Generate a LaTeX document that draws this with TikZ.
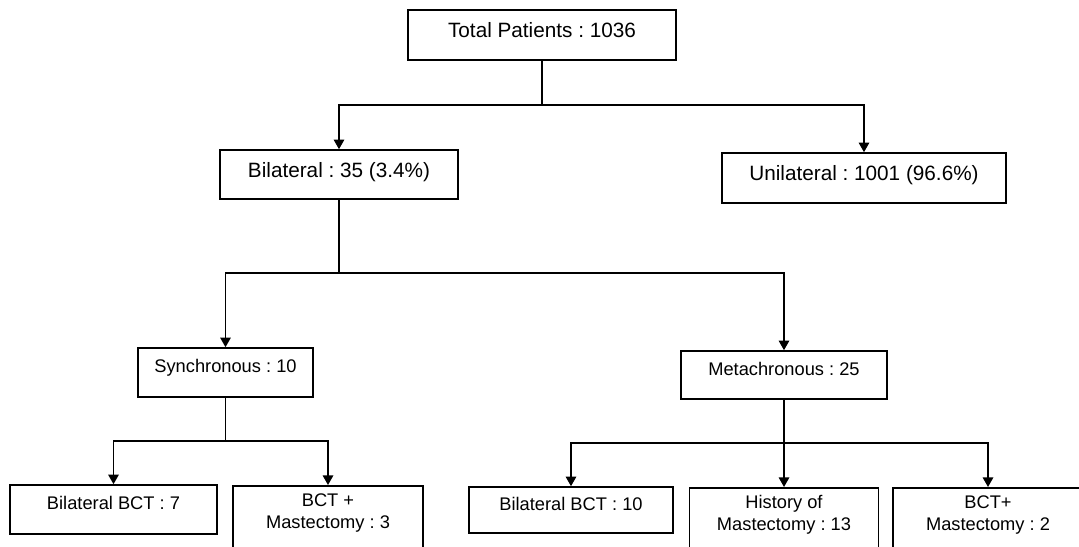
\documentclass[tikz,border=0pt]{standalone}
\usepackage{fontspec}
\setmainfont{Liberation Sans}
\usetikzlibrary{arrows.meta}
\frenchspacing
\begin{document}
\begin{tikzpicture}[x=0.02cm,y=-0.02cm,line width=0.9pt,
  box/.style={draw,inner sep=2pt,align=center,font=\fontsize{10.4}{12.5}\selectfont},
  onel/.style={text height=8pt,text depth=7.5pt},
  big/.style={font=\fontsize{11.8}{14}\selectfont,text height=9pt,text depth=6pt},
  tall/.style={inner ysep=4.5pt,anchor=north},
  arr/.style={-{Triangle[width=6pt,length=5.5pt]}}]
 \useasboundingbox (0,0) rectangle (1079,547);

 \node[box,big,minimum width=5.36cm,minimum height=1cm] (total) at (542,35) {Total Patients : 1036};
 \node[box,big,minimum width=4.76cm,minimum height=0.98cm] (bil) at (339,174.5) {Bilateral : 35 (3.4\%)};
 \node[box,big,minimum width=5.68cm,minimum height=1cm] (uni) at (864,178) {Unilateral : 1001 (96.6\%)};
 \node[box,onel,minimum width=3.5cm,minimum height=0.98cm] (sync) at (225.5,372.5) {Synchronous : 10};
 \node[box,onel,minimum width=4.12cm,minimum height=0.96cm] (meta) at (784,375) {Metachronous : 25};
 \node[box,onel,minimum width=4.14cm,minimum height=0.98cm] (bbct1) at (113.5,509.5) {Bilateral BCT : 7};
 \node[box,tall,minimum width=3.8cm] (mast1) at (328,485) {BCT +\\Mastectomy : 3\\\rule{0pt}{1cm}};
 \node[box,onel,minimum width=4.08cm,minimum height=0.92cm] (bbct2) at (571,510) {Bilateral BCT : 10};
 \node[box,tall,minimum width=3.78cm] (hist) at (784,487) {History of\\Mastectomy : 13\\\rule{0pt}{1cm}};
 \node[box,tall,minimum width=3.8cm] (mast2) at (988,487) {BCT+\\Mastectomy : 2\\\rule{0pt}{1cm}};

 \coordinate (s1) at (542,105);
 \coordinate (s2) at (339,273);
 \coordinate (s3) at (225.5,441);
 \coordinate (s4) at (784,443);

 \draw (total) -- (s1);
 \draw[arr] (s1) -| (bil);
 \draw[arr] (s1) -| (uni);
 \draw (bil) -- (s2);
 \draw[arr] (s2) -| (sync);
 \draw[arr] (s2) -| (meta);
 \draw (sync) -- (s3);
 \draw[arr] (s3) -| (bbct1);
 \draw[arr] (s3) -| (mast1);
 \draw (meta) -- (s4);
 \draw[arr] (s4) -| (bbct2);
 \draw[arr] (s4) -- (hist);
 \draw[arr] (s4) -| (mast2);

\end{tikzpicture}
\end{document}
